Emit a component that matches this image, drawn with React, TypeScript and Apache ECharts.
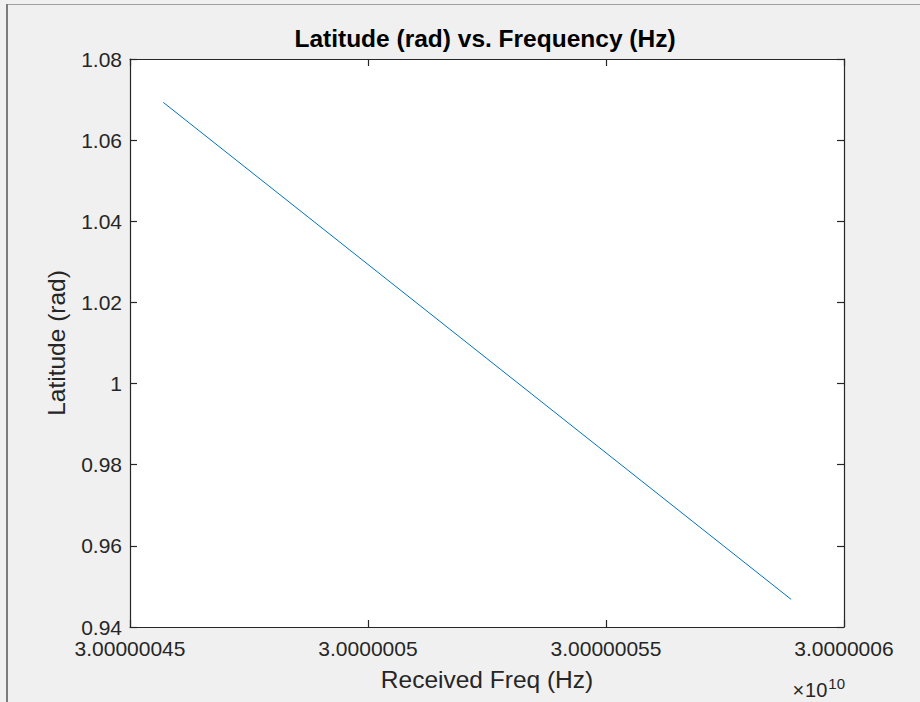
import React, { useEffect, useRef } from "react";
import * as echarts from "echarts";

const freqHz = [30000004570, 30000005889];
const latitudeRad = [1.0693, 0.9468];
const xTickLabels = ["3.00000045", "3.0000005", "3.00000055", "3.0000006"];
const yTickLabels = ["0.94", "0.96", "0.98", "1", "1.02", "1.04", "1.06", "1.08"];
const titleText = "Latitude (rad) vs. Frequency (Hz)";
const xName = "Received Freq (Hz)";
const yName = "Latitude (rad)";

const FONT = "'Liberation Sans', Arial, Helvetica, sans-serif";
const AX = "#262626";

export default function App() {
  const ref = useRef<HTMLDivElement>(null);
  useEffect(() => {
    document.body.style.margin = "0";
    document.body.style.background = "#f0f0f0";
    const chart = echarts.init(ref.current!, undefined, { renderer: "svg" });
    // x in units of 1e-8 x 10^10 Hz offset from 3e10 Hz
    const xs = freqHz.map((f) => (f - 3e10) / 100);
    const data = xs.map((x, i) => [x, latitudeRad[i]]);
    const xMin = 45, xMax = 60, xInt = 5;
    const yMin = 0.94, yMax = 1.08, yInt = 0.02;
    const xFmt = (v: number) => xTickLabels[Math.round((v - xMin) / xInt)] ?? "";
    const yFmt = (v: number) => yTickLabels[Math.round((v - yMin) / yInt)] ?? "";
    const baseX = {
      type: "value",
      min: xMin,
      max: xMax,
      interval: xInt,
      splitLine: { show: false },
      axisLine: { show: true, onZero: false, lineStyle: { color: AX, width: 1.2 } },
      axisTick: { show: true, inside: true, length: 7, lineStyle: { color: AX, width: 1.2 } },
    };
    const baseY = {
      type: "value",
      min: yMin,
      max: yMax,
      interval: yInt,
      splitLine: { show: false },
      axisLine: { show: true, onZero: false, lineStyle: { color: AX, width: 1.2 } },
      axisTick: { show: true, inside: true, length: 7, lineStyle: { color: AX, width: 1.2 } },
    };
    chart.setOption({
      animation: false,
      backgroundColor: "#f0f0f0",
      grid: {
        left: 130,
        right: 76,
        top: 59,
        bottom: 75,
        show: true,
        backgroundColor: "#ffffff",
        borderWidth: 0,
      },
      xAxis: [
        {
          ...baseX,
          position: "bottom",
          axisLabel: {
            formatter: xFmt,
            color: AX,
            fontFamily: FONT,
            fontSize: 21,
            lineHeight: 21,
            margin: 11,
          },
          name: xName,
          nameLocation: "middle",
          nameGap: 40,
          nameTextStyle: { color: AX, fontFamily: FONT, fontSize: 24.5 },
        },
        { ...baseX, position: "top", axisLabel: { show: false } },
      ],
      yAxis: [
        {
          ...baseY,
          position: "left",
          axisLabel: {
            formatter: yFmt,
            color: AX,
            fontFamily: FONT,
            fontSize: 21,
            lineHeight: 21,
            margin: 8,
          },
          name: yName,
          nameLocation: "middle",
          nameGap: 61,
          nameTextStyle: { color: AX, fontFamily: FONT, fontSize: 24.5 },
        },
        { ...baseY, position: "right", axisLabel: { show: false } },
      ],
      series: [
        {
          type: "line",
          data,
          xAxisIndex: 0,
          yAxisIndex: 0,
          showSymbol: false,
          symbol: "none",
          lineStyle: { color: "#0072BD", width: 1 },
        },
      ],
      graphic: [
        {
          type: "line",
          shape: { x1: 7, y1: 4.5, x2: 920, y2: 4.5 },
          style: { stroke: "#a0a0a0", lineWidth: 1 },
        },
        {
          type: "line",
          shape: { x1: 7, y1: 4, x2: 7, y2: 702 },
          style: { stroke: "#7c7c7c", lineWidth: 2 },
        },
        {
          type: "text",
          x: 485,
          y: 38,
          style: {
            text: titleText,
            font: `bold 24.5px ${FONT}`,
            fill: "#000000",
            textAlign: "center",
            textVerticalAlign: "middle",
          },
        },
        {
          type: "text",
          x: 845,
          y: 690,
          style: {
            text: "{x|×}{m|10}{s|10}",
            textAlign: "right",
            textVerticalAlign: "middle",
            rich: {
              x: { fontSize: 20, fontFamily: FONT, fill: AX, padding: [0, 1, 0, 0] },
              m: { fontSize: 20, fontFamily: FONT, fill: AX },
              s: { fontSize: 15, fontFamily: FONT, fill: AX, padding: [0, 0, 14, 1] },
            },
          },
        },
      ],
    });
    return () => chart.dispose();
  }, []);
  return (
    <div
      ref={ref}
      style={{ position: "absolute", left: 0, top: 0, width: 920, height: 702 }}
    />
  );
}
